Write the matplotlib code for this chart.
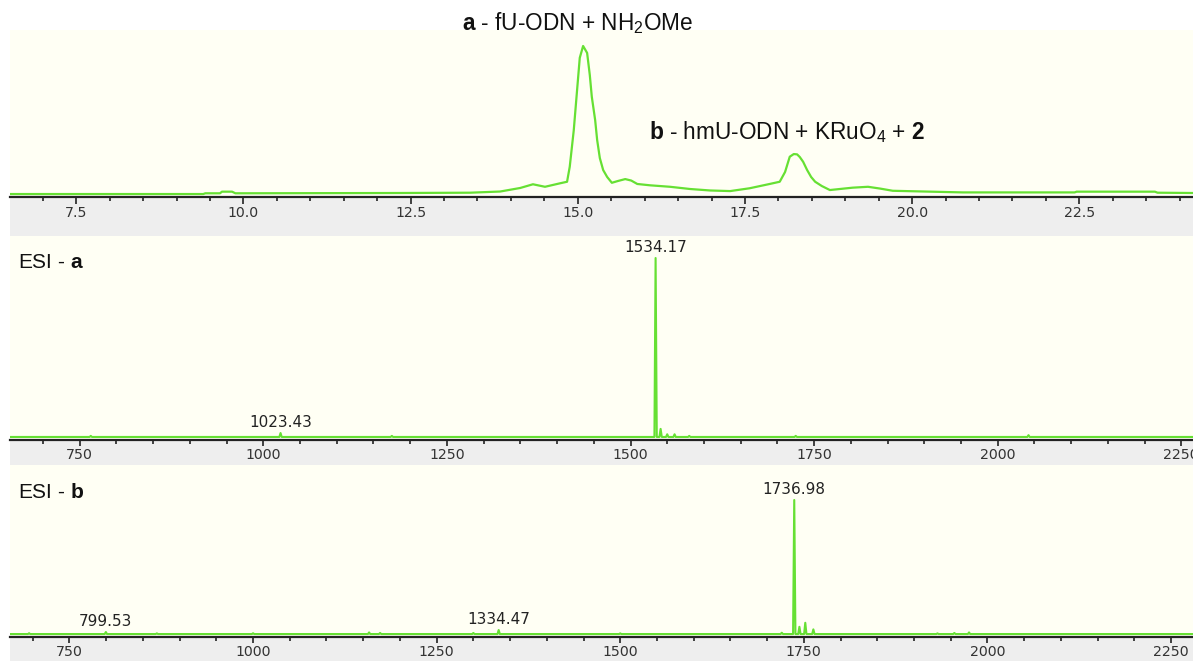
import numpy as np
import matplotlib
matplotlib.use("Agg")
import matplotlib.pyplot as plt
from matplotlib.patches import Rectangle
from matplotlib.ticker import MultipleLocator, FormatStrFormatter

plt.rcParams['font.family'] = ['Liberation Sans', 'DejaVu Sans']
plt.rcParams['mathtext.fontset'] = 'custom'
plt.rcParams['mathtext.rm'] = 'Liberation Sans'
plt.rcParams['mathtext.bf'] = 'Liberation Sans:bold'
plt.rcParams['mathtext.it'] = 'Liberation Sans:italic'

# HPLC trace (retention time in min, relative absorbance)
hplc_t = [6.51, 9.40, 9.43, 9.65, 9.68, 9.83, 9.88, 12.34, 13.39, 13.84, 14.14, 14.33,
          14.51, 14.73, 14.84, 14.88, 14.94, 14.99, 15.03, 15.08, 15.14, 15.18, 15.21,
          15.26, 15.29, 15.33, 15.38, 15.44, 15.51, 15.60, 15.71, 15.80, 15.89, 16.08,
          16.38, 16.68, 16.98, 17.28, 17.57, 17.87, 18.02, 18.10, 18.17, 18.23, 18.28,
          18.32, 18.37, 18.43, 18.49, 18.55, 18.65, 18.77, 19.11, 19.34, 19.52, 19.71,
          20.76, 22.43, 22.46, 23.63, 23.67, 24.20]
hplc_i = [0.0, 0.0, 0.5, 0.5, 1.6, 1.6, 0.5, 0.7, 0.9, 1.7, 4.1, 6.6,
          4.9, 7.2, 8.3, 18.4, 43.0, 70.3, 92.0, 100.0, 95.3, 80.4, 65.7,
          50.0, 36.5, 24.3, 16.2, 11.5, 7.6, 8.8, 10.1, 9.1, 6.8, 5.9,
          4.9, 3.4, 2.4, 2.0, 3.9, 6.8, 8.3, 14.9, 25.2, 27.0, 26.8,
          25.0, 21.8, 16.2, 11.5, 8.3, 5.4, 2.7, 4.3, 4.9, 3.7, 2.2,
          1.1, 1.1, 1.6, 1.6, 0.9, 0.7]

# ESI spectra: peak m/z and relative intensity
esi_a_mz = [765, 1023.43, 1175, 1534.17, 1541, 1550, 1560, 1580, 1725, 2042]
esi_a_int = [0.6, 2.2, 0.6, 100.0, 4.5, 1.5, 1.5, 0.6, 0.6, 1.0]
esi_a_labels = {1023.43: "1023.43", 1534.17: "1534.17"}

esi_b_mz = [695, 799.53, 869, 1000, 1158, 1173, 1300, 1334.47, 1500, 1720,
            1736.98, 1744, 1752, 1763, 1932, 1955, 1975]
esi_b_int = [0.6, 1.5, 0.5, 0.6, 1.2, 0.8, 0.8, 3.0, 0.5, 1.0,
             100.0, 5.4, 8.4, 3.5, 0.5, 0.8, 1.2]
esi_b_labels = {799.53: "799.53", 1334.47: "1334.47", 1736.98: "1736.98"}

W, H = 1193, 661
GREEN = '#66e033'
IVORY = '#fffff4'
BAND = '#eeeeee'


def fx(px):
    return px / W


def fy(py):
    return 1 - py / H


def make_axes(top, bottom, band_bottom, major_len):
    ax = fig.add_axes([fx(10), fy(bottom), fx(1193) - fx(10), (bottom - top) / H])
    ax.set_facecolor(IVORY)
    fig.patches.append(Rectangle((fx(10), fy(band_bottom)), fx(1193) - fx(10),
                                 (band_bottom - bottom) / H, transform=fig.transFigure,
                                 facecolor=BAND, edgecolor='none', zorder=-5))
    for s in ['top', 'left', 'right']:
        ax.spines[s].set_visible(False)
    ax.spines['bottom'].set_color('#222222')
    ax.spines['bottom'].set_linewidth(1.6)
    ax.set_yticks([])
    ax.tick_params(axis='x', which='major', length=major_len, width=1.2, color='#222222',
                   labelsize=10.2, labelcolor='#333333', pad=1.5)
    ax.tick_params(axis='x', which='minor', length=3, width=1.2, color='#222222')
    return ax


def spectrum_xy(mz, inten, lo, hi, w=1.6):
    xs, ys = [lo], [0.0]
    for m, h in sorted(zip(mz, inten)):
        xs += [m - w, m, m + w]
        ys += [0.0, h, 0.0]
    xs.append(hi)
    ys.append(0.0)
    return np.array(xs), np.array(ys)


def tick_font(ax):
    for lab in ax.get_xticklabels():
        lab.set_fontfamily('DejaVu Sans')


fig = plt.figure(figsize=(W / 100, H / 100), dpi=100)
fig.patch.set_facecolor('white')

# HPLC chromatogram
ax1 = make_axes(30, 197, 236, 5)
ax1.plot(hplc_t, hplc_i, color=GREEN, lw=1.6)
ax1.set_xlim(6.51, 24.2)
ax1.set_ylim(-2.0, 110.8)
ax1.xaxis.set_major_locator(MultipleLocator(2.5))
ax1.xaxis.set_minor_locator(MultipleLocator(0.5))
ax1.xaxis.set_major_formatter(FormatStrFormatter('%.1f'))
tick_font(ax1)

fig.text(fx(578), fy(23), r'$\mathbf{a}$ - fU-ODN + NH$_2$OMe', ha='center', va='center',
         fontsize=16.3, color='#111111')
fig.text(fx(787), fy(132), r'$\mathbf{b}$ - hmU-ODN + KRuO$_4$ + $\mathbf{2}$', ha='center',
         va='center', fontsize=16.3, color='#111111')


def esi_panel(top, bottom, band_bottom, lo, hi, ylim, mz, inten, labels, title):
    ax = make_axes(top, bottom, band_bottom, 4)
    xs, ys = spectrum_xy(mz, inten, lo, hi)
    ax.plot(xs, ys, color=GREEN, lw=1.5)
    ax.set_xlim(lo, hi)
    ax.set_ylim(*ylim)
    ax.xaxis.set_major_locator(MultipleLocator(250))
    ax.xaxis.set_minor_locator(MultipleLocator(50))
    tick_font(ax)
    for m, txt in labels.items():
        h = inten[mz.index(m)]
        ax.annotate(txt, (m, h), xytext=(0, 2), textcoords='offset points', ha='center',
                    va='bottom', fontsize=11, color='#222222', family='DejaVu Sans')
    fig.text(fx(18), fy(top + 27), title, ha='left', va='center', fontsize=15,
             color='#111111')
    return ax


esi_panel(236, 440, 465, 655, 2266, (-1.7, 112.3), esi_a_mz, esi_a_int, esi_a_labels,
          r'ESI - $\mathbf{a}$')
esi_panel(465, 637, 661, 669, 2280, (-2.2, 126.1), esi_b_mz, esi_b_int, esi_b_labels,
          r'ESI - $\mathbf{b}$')

fig.savefig('out.png', dpi=100, facecolor=fig.get_facecolor())
